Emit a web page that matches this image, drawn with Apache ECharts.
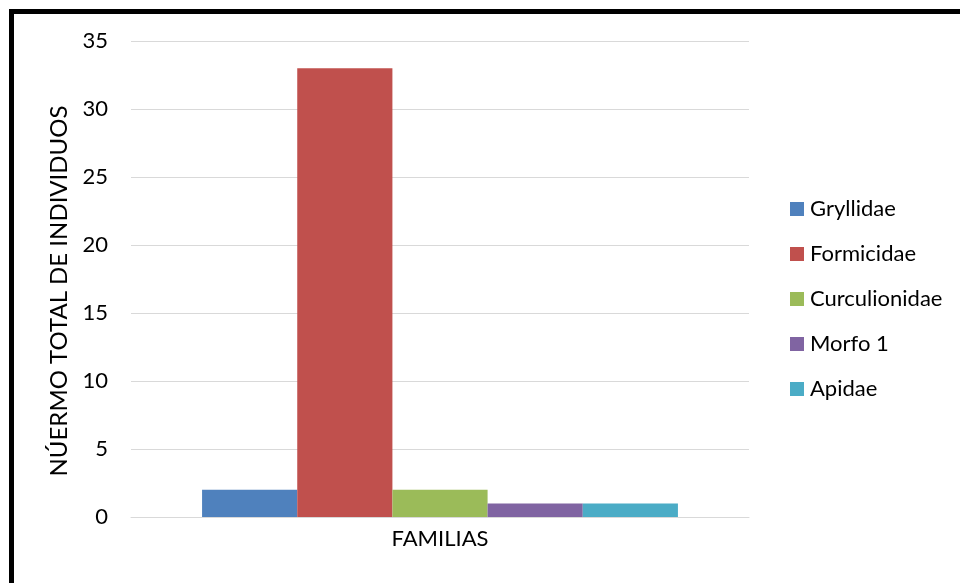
<!DOCTYPE html>
<html>
<head>
<meta charset="utf-8">
<script src="https://cdn.jsdelivr.net/npm/echarts@6/dist/echarts.min.js"></script>
<style>
html,body{margin:0;padding:0;background:#fff;}
#chart{width:960px;height:583px;}
</style>
</head>
<body>
<div id="chart"></div>
<script>
const categories = ['FAMILIAS'];
const seriesNames = ['Gryllidae', 'Formicidae', 'Curculionidae', 'Morfo 1', 'Apidae'];
const seriesValues = [[2], [33], [2], [1], [1]];
const seriesColors = ['#4F81BD', '#C0504D', '#9BBB59', '#8064A2', '#4BACC6'];
const yTicks = { min: 0, max: 35, interval: 5 };
const yTitle = 'NÚERMO TOTAL DE INDIVIDUOS';

const FONT = 'Lato';
const chart = echarts.init(document.getElementById('chart'), null, { renderer: 'canvas' });
chart.setOption({
  backgroundColor: '#fff',
  animation: false,
  textStyle: { fontFamily: FONT },
  graphic: [{
    type: 'rect',
    shape: { x: 11.5, y: 11.5, width: 1200, height: 1200 },
    style: { fill: 'none', stroke: '#000', lineWidth: 5 },
    silent: true, z: 100
  }],
  grid: { left: 131, top: 41, width: 618, height: 476, containLabel: false },
  legend: {
    orient: 'vertical',
    left: 790, top: 198,
    padding: 0,
    itemWidth: 14, itemHeight: 14, itemGap: 23,
    icon: 'rect',
    textStyle: { fontFamily: FONT, fontSize: 22, color: '#000', padding: [0, 0, 0, 1] },
    data: seriesNames
  },
  xAxis: {
    type: 'category',
    data: categories,
    axisLine: { show: true, lineStyle: { color: '#d9d9d9', width: 1 } },
    axisTick: { show: false },
    axisLabel: { fontFamily: FONT, fontSize: 22, color: '#000', margin: 11 }
  },
  yAxis: {
    type: 'value',
    min: yTicks.min, max: yTicks.max, interval: yTicks.interval,
    name: yTitle,
    nameLocation: 'middle',
    nameRotate: 90,
    nameGap: 57,
    nameTextStyle: { fontFamily: FONT, fontSize: 24, color: '#000', padding: [0, 24, 0, 0] },
    axisLine: { show: false },
    axisTick: { show: false },
    axisLabel: { fontFamily: FONT, fontSize: 22, color: '#000', margin: 23 },
    splitLine: { show: true, lineStyle: { color: '#d9d9d9', width: 1 } }
  },
  series: seriesNames.map((n, i) => ({
    name: n,
    type: 'bar',
    data: seriesValues[i],
    itemStyle: { color: seriesColors[i] },
    barGap: '0%',
    barCategoryGap: '23%'
  }))
});
</script>
</body>
</html>
